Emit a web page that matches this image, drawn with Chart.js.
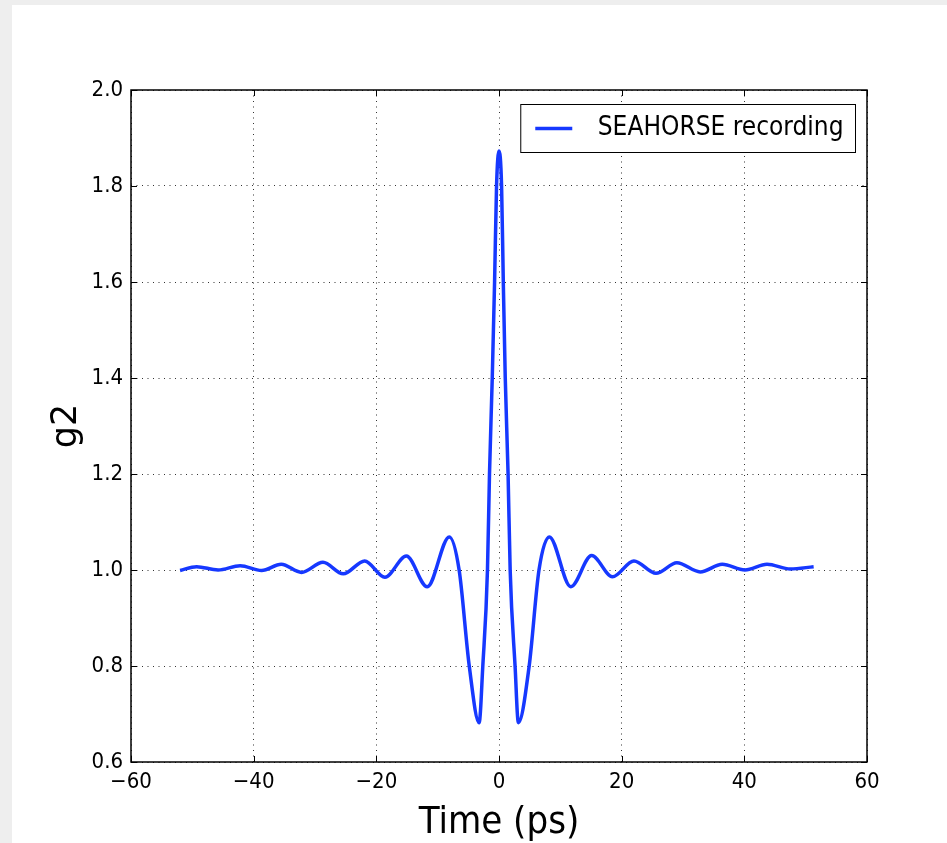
<!DOCTYPE html>
<html>
<head>
<meta charset="utf-8">
<script src="https://cdn.jsdelivr.net/npm/chart.js@4/dist/chart.umd.min.js"></script>
<style>
  html, body { margin: 0; padding: 0; background: #fff; overflow: hidden; }
</style>
</head>
<body>
<canvas id="g2Chart" width="947" height="843"></canvas>
<script>
const seriesLabel = 'SEAHORSE recording';
const lineColor = 'rgb(22, 56, 255)';
const condensed = '"DejaVu Sans Condensed", "Liberation Sans Narrow", "DejaVu Sans", sans-serif';

const timePs = [
  -52.0, -49.3, -45.8, -42.2, -38.7, -35.5, -32.2, -28.7, -25.4, -21.9,
  -18.6, -15.1, -11.7, -8.1, -6.5, -4.85, -3.24, -2.64, -1.88, -1.55,
  -1.10, -0.72, -0.40, 0.0, 0.42, 0.70, 1.02, 1.48, 1.82, 2.62,
  3.16, 4.92, 6.52, 8.2, 11.7, 15.1, 18.5, 22.0, 25.6, 29.0,
  32.8, 36.4, 40.1, 43.7, 47.5, 51.3
];
const g2Values = [
  0.999, 1.007, 1.000, 1.009, 0.999, 1.012, 0.995, 1.016, 0.992, 1.019,
  0.985, 1.029, 0.965, 1.069, 1.0, 0.8, 0.682, 0.8, 1.0, 1.2,
  1.4, 1.6, 1.8, 1.873, 1.8, 1.6, 1.4, 1.2, 1.0, 0.8,
  0.682, 0.8, 1.0, 1.069, 0.965, 1.030, 0.986, 1.019, 0.993, 1.015,
  0.996, 1.012, 1.000, 1.012, 1.002, 1.007
];

const xTickValues = [-60, -40, -20, 0, 20, 40, 60];
const xTickLabels = ['\u221260', '\u221240', '\u221220', '0', '20', '40', '60'];
const yTickValues = [0.6, 0.8, 1.0, 1.2, 1.4, 1.6, 1.8, 2.0];
const yTickLabels = ['0.6', '0.8', '1.0', '1.2', '1.4', '1.6', '1.8', '2.0'];

const framePlugin = {
  id: 'frame',
  beforeDraw(chart) {
    const c = chart.ctx;
    c.save();
    c.fillStyle = '#eeeeee';
    c.fillRect(0, 0, chart.width, chart.height);
    c.fillStyle = '#ffffff';
    c.fillRect(12, 5, chart.width - 12, chart.height - 5);
    c.restore();
  },
  afterDatasetsDraw(chart) {
    const c = chart.ctx;
    const a = chart.chartArea;
    const xs = chart.scales.x, ys = chart.scales.y;
    c.save();
    c.strokeStyle = '#000';
    c.lineWidth = 1;
    c.beginPath();
    // matplotlib style ticks, pointing inwards on every side
    xs.ticks.forEach(t => {
      const px = Math.round(xs.getPixelForValue(t.value)) + 0.5;
      c.moveTo(px, a.bottom); c.lineTo(px, a.bottom - 6);
      c.moveTo(px, a.top); c.lineTo(px, a.top + 6);
    });
    ys.ticks.forEach(t => {
      const py = Math.round(ys.getPixelForValue(t.value)) + 0.5;
      c.moveTo(a.left, py); c.lineTo(a.left + 6, py);
      c.moveTo(a.right, py); c.lineTo(a.right - 6, py);
    });
    c.stroke();
    c.lineWidth = 1.5;
    c.strokeRect(a.left, a.top, a.right - a.left, a.bottom - a.top);

    // legend box, top right inside the axes
    const ds = chart.data.datasets[0];
    c.font = '26px ' + condensed;
    const tw = c.measureText(ds.label).width;
    const boxRight = a.right - 11.5;
    const boxTop = a.top + 14.5;
    const boxW = 77 + tw + 12;
    const boxH = 48;
    const boxLeft = boxRight - boxW;
    c.fillStyle = '#fff';
    c.fillRect(boxLeft, boxTop, boxW, boxH);
    c.lineWidth = 1;
    c.strokeRect(boxLeft, boxTop, boxW, boxH);
    const midY = boxTop + boxH / 2;
    c.strokeStyle = ds.borderColor;
    c.lineWidth = ds.borderWidth;
    c.beginPath();
    c.moveTo(boxLeft + 14.5, midY);
    c.lineTo(boxLeft + 51.5, midY);
    c.stroke();
    c.fillStyle = '#000';
    c.textBaseline = 'middle';
    c.textAlign = 'left';
    c.fillText(ds.label, boxLeft + 77, midY);
    c.restore();
  }
};

const ctx = document.getElementById('g2Chart').getContext('2d');
const g2Chart = new Chart(ctx, {
  type: 'line',
  data: {
    datasets: [{
      label: seriesLabel,
      data: timePs.map((t, i) => ({ x: t, y: g2Values[i] })),
      borderColor: lineColor,
      borderWidth: 3.5,
      pointRadius: 0,
      fill: false,
      cubicInterpolationMode: 'monotone'
    }]
  },
  options: {
    responsive: false,
    animation: false,
    layout: { padding: { top: 90, right: 80, left: 0, bottom: 0 } },
    plugins: {
      legend: { display: false },
      tooltip: { enabled: false }
    },
    scales: {
      x: {
        type: 'linear',
        min: -60,
        max: 60,
        afterBuildTicks: s => { s.ticks = xTickValues.map(v => ({ value: v })); },
        afterFit: s => { s.height = 81; },
        ticks: {
          callback: (v, i) => xTickLabels[i],
          font: { family: condensed, size: 22 },
          color: '#000',
          padding: 7,
          maxRotation: 0,
          autoSkip: false
        },
        grid: { color: '#333', lineWidth: 1, drawTicks: false },
        border: { display: false, dash: [1, 4.5] },
        title: {
          display: true,
          text: 'Time (ps)',
          color: '#000',
          font: { family: condensed, size: 38, lineHeight: 1 },
          padding: { top: 0, bottom: 1 }
        }
      },
      y: {
        type: 'linear',
        min: 0.6,
        max: 2.0,
        afterBuildTicks: s => { s.ticks = yTickValues.map(v => ({ value: v })); },
        afterFit: s => { s.width = 131; },
        ticks: {
          callback: (v, i) => yTickLabels[i],
          font: { family: condensed, size: 22 },
          color: '#000',
          padding: 8,
          autoSkip: false
        },
        grid: { color: '#333', lineWidth: 1, drawTicks: false },
        border: { display: false, dash: [1, 4.5] },
        title: {
          display: true,
          text: 'g2',
          color: '#000',
          font: { family: '"DejaVu Sans", sans-serif', size: 35, lineHeight: 1 },
          padding: { top: 49, bottom: 0 }
        }
      }
    }
  },
  plugins: [framePlugin]
});
</script>
</body>
</html>
